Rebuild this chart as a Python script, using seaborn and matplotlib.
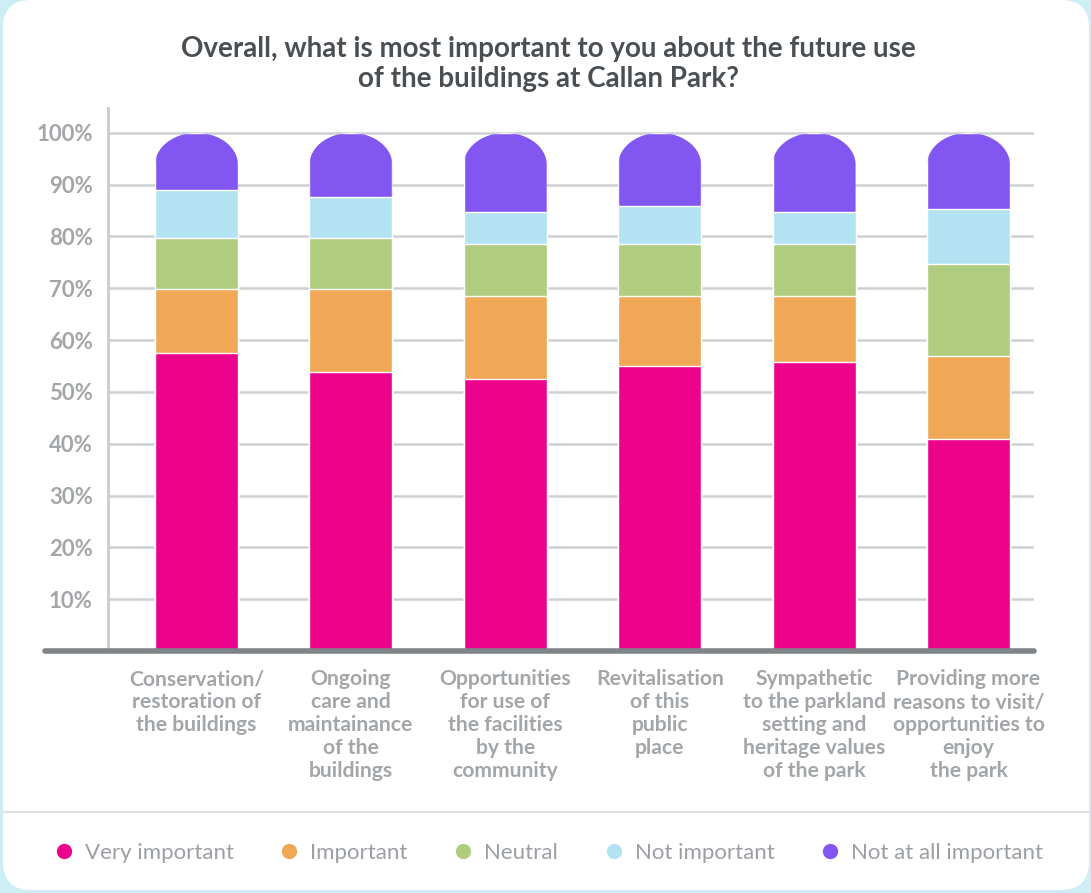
import pandas as pd
import matplotlib.pyplot as plt
import seaborn as sns
from matplotlib.path import Path
from matplotlib.patches import FancyBboxPatch
from matplotlib.lines import Line2D
import numpy as np


# Data (percent of respondents)
categories = [
    "Conservation/\nrestoration of\nthe buildings",
    "Ongoing\ncare and\nmaintainance\nof the\nbuildings",
    "Opportunities\nfor use of\nthe facilities\nby the\ncommunity",
    "Revitalisation\nof this\npublic\nplace",
    "Sympathetic\nto the parkland\nsetting and\nheritage values\nof the park",
    "Providing more\nreasons to visit/\nopportunities to\nenjoy\nthe park",
]
very_important = [57.5, 53.9, 52.5, 55.0, 55.7, 41.0]
important = [12.3, 16.0, 16.1, 13.6, 12.9, 16.0]
neutral = [9.9, 9.8, 10.0, 10.0, 10.0, 17.7]
not_important = [9.3, 7.9, 6.1, 7.3, 6.1, 10.6]
not_at_all = [11.0, 12.4, 15.3, 14.1, 15.3, 14.7]

series_names = ["Very important", "Important", "Neutral",
                "Not important", "Not at all important"]
series_vals = [very_important, important, neutral, not_important, not_at_all]
colors = ["#ED028C", "#F1A856", "#B0CC7E", "#B3E3F2", "#8256F0"]


W, H = 1091, 893
sns.set_theme(style="white")
plt.rcParams['font.family'] = ['Lato', 'DejaVu Sans']

fig = plt.figure(figsize=(W / 100, H / 100), dpi=100)
fig.patch.set_facecolor("#CDEEF5")

# background card
bg = fig.add_axes([0, 0, 1, 1], zorder=0)
bg.set_xlim(0, W)
bg.set_ylim(H, 0)
bg.axis("off")
bg.add_patch(FancyBboxPatch((3, 0), W - 5, 890,
                            boxstyle="round,pad=0,rounding_size=28",
                            fc="white", ec="none"))
bg.plot([3, W - 2], [812, 812], color="#DDE1E5", lw=1.5)

# main axes
ax = fig.add_axes([108 / W, 1 - 651 / H, (1034 - 108) / W, (651 - 108) / H], zorder=1)
ax.patch.set_alpha(0)

df = pd.DataFrame({"category": categories})
cum = np.zeros(len(categories))
for name, vals in zip(series_names, series_vals):
    cum = cum + np.array(vals)
    df[name] = cum

# draw from the top-most cumulative down so lower segments sit in front
n_before = 0
top_patches = None
for name, col in reversed(list(zip(series_names, colors))):
    sns.barplot(data=df, x="category", y=name, color=col, width=0.538,
                errorbar=None, saturation=1, ax=ax, zorder=2)
    new = ax.patches[n_before:]
    if top_patches is None:
        top_patches = list(new)
    n_before = len(ax.patches)

# rounded cap on top segment
cap = 6.2
for p in top_patches:
    x0, w, h = p.get_x(), p.get_width(), p.get_height()
    t = np.linspace(0, np.pi, 60)
    arc = np.column_stack([x0 + w / 2 + (w / 2) * np.cos(t), h - cap + cap * np.sin(t)])
    verts = np.vstack([[x0, 0], [x0 + w, 0], arc, [x0, 0]])
    p.set_clip_path(Path(verts, closed=True), ax.transData)

ax.set_xlim(-0.573, 5.424)
ax.set_ylim(0, 104.8)
ax.set_yticks(range(10, 101, 10))
ax.set_yticklabels([f"{v}%" for v in range(10, 101, 10)])
ax.yaxis.grid(True, color="#CDD1D5", lw=1.8, zorder=0)
ax.set_axisbelow(True)
ax.set_xlabel("")
ax.set_ylabel("")
for s in ["top", "right", "bottom"]:
    ax.spines[s].set_visible(False)
ax.spines["left"].set_color("#C8CCD0")
ax.spines["left"].set_linewidth(2)
ax.tick_params(axis="both", length=0)
ax.tick_params(axis="y", pad=11, labelsize=16, labelcolor="#A3A6A9")
ax.tick_params(axis="x", pad=13, labelsize=15.2, labelcolor="#A3A6A9")
for lbl in ax.get_yticklabels():
    lbl.set_fontweight("bold")
for lbl in ax.get_xticklabels():
    lbl.set_fontweight("bold")
    lbl.set_linespacing(1.19)
    lbl.set_va("top")

# thick baseline extending left of the axis
ax.axhline(0, xmin=-(108 - 45) / (1034 - 108), xmax=1, color="#7F8489",
           lw=4, solid_capstyle="round", clip_on=False, zorder=3)

fig.text(548 / W, 1 - 64 / H,
         "Overall, what is most important to you about the future use\nof the buildings at Callan Park?",
         ha="center", va="center", fontsize=20, fontweight="bold",
         color="#4A4F54", linespacing=1.22)

handles = [Line2D([], [], marker="o", ls="none", markersize=11,
                  markerfacecolor=c, markeredgecolor="none") for c in colors]
fig.legend(handles, series_names, loc="center", ncol=5, frameon=False,
           bbox_to_anchor=(549 / W, 1 - 853 / H), fontsize=16, handlelength=0.8,
           handletextpad=0.55, columnspacing=2.1, labelcolor="#9B9FA3")

fig.savefig("out.png", dpi=100, facecolor=fig.get_facecolor())
